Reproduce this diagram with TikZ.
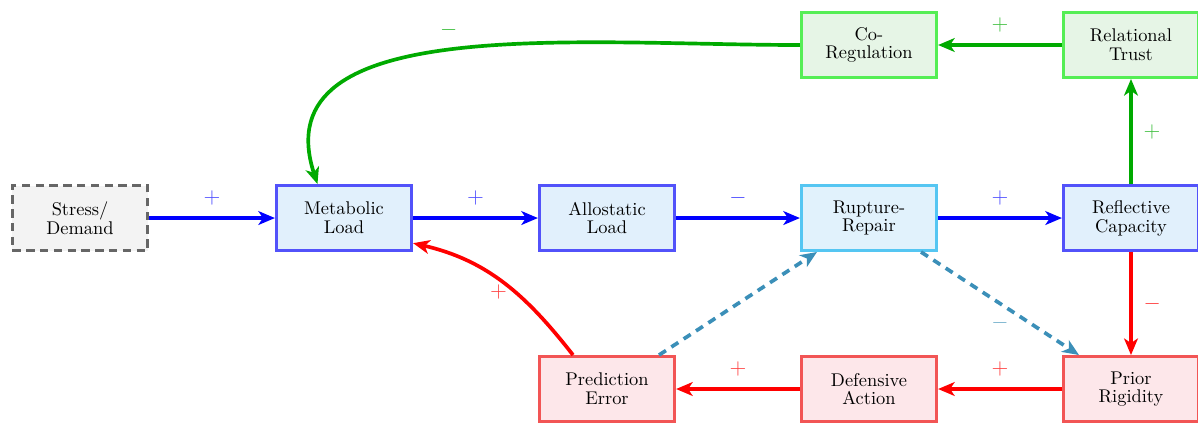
\documentclass[tikz,border=0pt]{standalone}
\usetikzlibrary{arrows.meta}
\definecolor{loadedge}{HTML}{5252FA}
\definecolor{loadfill}{HTML}{E1F0FC}
\definecolor{repairedge}{HTML}{55C6F2}
\definecolor{repairfill}{HTML}{E1F2FC}
\definecolor{trustedge}{HTML}{55EE55}
\definecolor{trustfill}{HTML}{E6F5E6}
\definecolor{trustarrow}{HTML}{00AA00}
\definecolor{rigidedge}{HTML}{F25555}
\definecolor{rigidfill}{HTML}{FDE7EA}
\definecolor{dashlink}{HTML}{3B8FB8}
\definecolor{stressfill}{HTML}{F3F3F3}
\begin{document}
\begin{tikzpicture}[every node/.style={font=\fontsize{10}{10.2}\selectfont},
    box/.style={draw, line width=1.6pt, minimum width=2.58cm, minimum height=1.24cm, align=center, inner sep=2pt},
    loadbox/.style={box, draw=loadedge, fill=loadfill},
    repairbox/.style={box, draw=repairedge, fill=repairfill},
    trustbox/.style={box, draw=trustedge, fill=trustfill},
    rigidbox/.style={box, draw=rigidedge, fill=rigidfill},
    stressbox/.style={box, draw=black!60, fill=stressfill, dash pattern=on 4.5pt off 3pt},
    link/.style={line width=2pt, -{Stealth[length=9pt, width=7.5pt, inset=2.5pt]}},
    sign/.style={font=\fontsize{11.5}{12}\selectfont, inner sep=3.33pt}]
    \useasboundingbox (0,0) rectangle (22.863,8.092);
    % boxes
    \node[stressbox] (S) at (1.527,3.931) {Stress/\\Demand};
    \node[loadbox] (M) at (6.565,3.931) {Metabolic\\Load};
    \node[loadbox] (A) at (11.584,3.931) {Allostatic\\Load};
    \node[repairbox] (R) at (16.584,3.931) {Rupture-\\Repair};
    \node[loadbox] (F) at (21.584,3.931) {Reflective\\Capacity};
    \node[trustbox] (C) at (16.584,7.233) {Co-\\Regulation};
    \node[trustbox] (T) at (21.584,7.233) {Relational\\Trust};
    \node[rigidbox] (E) at (11.584,0.668) {Prediction\\Error};
    \node[rigidbox] (D) at (16.584,0.668) {Defensive\\Action};
    \node[rigidbox] (P) at (21.584,0.668) {Prior\\Rigidity};
    % main chain
    \draw[link, blue] (S) -- node[sign, above=2.5pt, blue!70]{$+$} (M);
    \draw[link, blue] (M) -- node[sign, above=2.5pt, blue!70]{$+$} (A);
    \draw[link, blue] (A) -- node[sign, above=2.5pt, blue!70]{$-$} (R);
    \draw[link, blue] (R) -- node[sign, above=2.5pt, blue!70]{$+$} (F);
    % trust loop
    \draw[link, trustarrow] (F) -- node[sign, right=2.5pt, trustarrow!75]{$+$} (T);
    \draw[link, trustarrow] (T) -- node[sign, above=2.5pt, trustarrow!75]{$+$} (C);
    \draw[link, trustarrow] (C.west) .. controls +(-4.22,0) and +(-1.07,3.28) .. node[sign, pos=0.51, above=3pt, trustarrow!75]{$-$} (M.128);
    % rigidity loop
    \draw[link, red] (F) -- node[sign, right=2.5pt, red!75]{$-$} (P);
    \draw[link, red] (P) -- node[sign, above=2.5pt, red!75]{$+$} (D);
    \draw[link, red] (D) -- node[sign, above=2.5pt, red!75]{$+$} (E);
    \draw[link, red] (E.135) to[out=128, in=-13] node[sign, pos=0.42, left, red!75]{$+$} (M.-20);
    % repair links
    \draw[link, dashlink, dash pattern=on 4.5pt off 3.5pt] (E) -- (R);
    \draw[link, dashlink, dash pattern=on 4.5pt off 3.5pt] (R) -- node[sign, below=2.5pt, dashlink!70]{$-$} (P);
\end{tikzpicture}
\end{document}
